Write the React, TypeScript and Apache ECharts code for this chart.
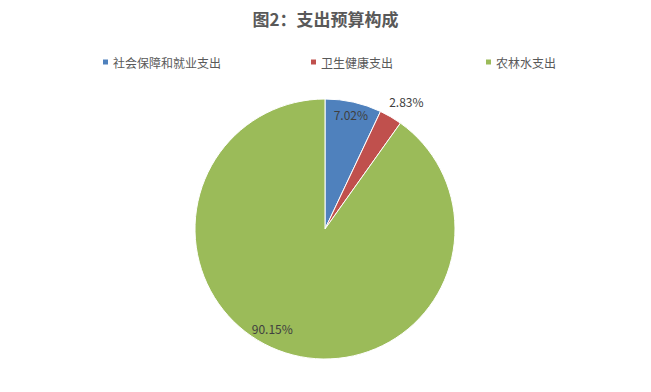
import React, { useEffect, useRef } from "react";
import * as echarts from "echarts";

const categories = ["社会保障和就业支出", "卫生健康支出", "农林水支出"];
const values = [7.02, 2.83, 90.15];
const colors = ["#4F81BD", "#C0504D", "#9BBB59"];
const labelOffsets: [number, number][] = [
  [11, -48],
  [47, -69],
  [-32, 35],
];
const legendLefts = [96, 304, 479];

export default function App() {
  const ref = useRef<HTMLDivElement>(null);
  useEffect(() => {
    document.body.style.margin = "0";
    const chart = echarts.init(ref.current!, null, { renderer: "svg" });
    const font = "'Microsoft YaHei', 'Noto Sans CJK SC', 'Noto Sans', sans-serif";
    chart.setOption({
      animation: false,
      backgroundColor: "#ffffff",
      title: {
        text: "图2：支出预算构成",
        left: "center",
        top: 5,
        textStyle: {
          fontFamily: font,
          fontSize: 17,
          fontWeight: "bold",
          color: "#595959",
        },
      },
      legend: categories.map((name, i) => ({
        top: 51,
        left: legendLefts[i],
        itemWidth: 7,
        itemHeight: 7,
        icon: "rect",
        selectedMode: false,
        textStyle: { fontFamily: font, fontSize: 12, color: "#595959", padding: [0, 0, 0, -1] },
        data: [name],
      })),
      series: [
        {
          type: "pie",
          center: [325, 229],
          radius: 130,
          startAngle: 90,
          clockwise: true,
          itemStyle: { borderColor: "#ffffff", borderWidth: 1 },
          label: {
            position: "inside",
            fontFamily: font,
            fontSize: 12,
            color: "#404040",
            formatter: (p: any) => p.value.toFixed(2) + "%",
          },
          labelLine: { show: false },
          emphasis: { disabled: true },
          data: categories.map((name, i) => ({
            name,
            value: values[i],
            itemStyle: { color: colors[i] },
            label: { offset: labelOffsets[i] },
          })),
        },
      ],
    });
    return () => chart.dispose();
  }, []);
  return <div ref={ref} style={{ width: 651, height: 392 }} />;
}
